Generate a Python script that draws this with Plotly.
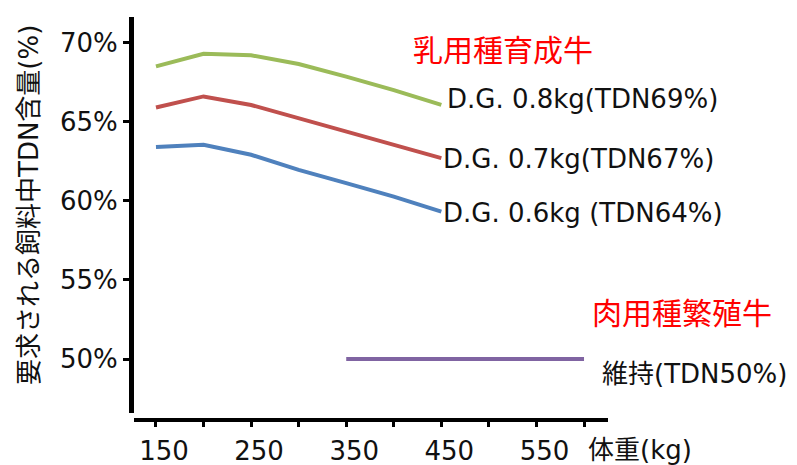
import plotly.graph_objects as go

# Body weight (kg) at which the requirement is given
weight = [150, 200, 250, 300, 350, 400, 450]

# Required TDN content of feed (%) for dairy heifers, by daily gain
tdn_dg08 = [68.5, 69.3, 69.2, 68.65, 67.85, 67.0, 66.06]
tdn_dg07 = [65.9, 66.6, 66.06, 65.22, 64.38, 63.54, 62.7]
tdn_dg06 = [63.4, 63.54, 62.91, 61.96, 61.12, 60.27, 59.32]

# Beef breeding cow, maintenance
maint_weight = [350, 600]
maint_tdn = [50, 50]

series_names = ["D.G. 0.8kg(TDN69%)", "D.G. 0.7kg(TDN67%)", "D.G. 0.6kg (TDN64%)"]
series_colors = ["#9BBB59", "#C0504D", "#4F81BD"]
maint_name = "維持(TDN50%)"
maint_color = "#8064A2"

x_tick_vals = [150, 200, 250, 300, 350, 400, 450, 500, 550, 600]
x_tick_text = ["150", "", "250", "", "350", "", "450", "", "550", ""]
y_tick_vals = [50, 55, 60, 65, 70]
y_tick_text = ["50%", "55%", "60%", "65%", "70%"]

FONT = "DejaVu Sans, Noto Sans CJK JP, sans-serif"
CJK = "Noto Sans CJK JP, sans-serif"
INK = "#111111"

fig = go.Figure()
for ys, name, color in zip([tdn_dg08, tdn_dg07, tdn_dg06], series_names, series_colors):
    fig.add_trace(go.Scatter(x=weight, y=ys, mode="lines", name=name,
                             line=dict(color=color, width=4), cliponaxis=False))
fig.add_trace(go.Scatter(x=maint_weight, y=maint_tdn, mode="lines", name=maint_name,
                         line=dict(color=maint_color, width=4), cliponaxis=False))

# Page geometry (pixels)
L, R, T, B = 134, 189, 17, 45
W, H = 797, 465
pw, ph = W - L - R, H - T - B


def px_to_paper(px, py):
    return (px - L) / pw, (H - B - py) / ph


def add_text(px, py, text, size, color=INK, xanchor="left", family=FONT, angle=0):
    x, y = px_to_paper(px, py)
    fig.add_annotation(x=x, y=y, xref="paper", yref="paper", text=text, showarrow=False,
                       xanchor=xanchor, yanchor="middle", textangle=angle,
                       font=dict(family=family, size=size, color=color))


# Right-hand labels for each line
for (lx, ly), name in zip([(445, 99), (441, 159), (441, 213)], series_names):
    add_text(lx, ly, name, 26)
add_text(600, 374, maint_name, 26)

# Group headings
add_text(503, 48, "乳用種育成牛", 30, color="#FF0000", xanchor="center", family=CJK)
add_text(682, 311, "肉用種繁殖牛", 30, color="#FF0000", xanchor="center", family=CJK)

# Axis titles
add_text(586, 450, "体重(kg)", 26)
add_text(29, 205, "要求される飼料中TDN含量(%)", 26, xanchor="center", angle=-90)

fig.update_layout(
    width=W, height=H,
    margin=dict(l=L, r=R, t=T, b=B, pad=0),
    plot_bgcolor="white", paper_bgcolor="white",
    showlegend=False,
    font=dict(family=FONT, size=26, color=INK),
    xaxis=dict(range=[126.9, 625.2], tickvals=x_tick_vals, ticktext=x_tick_text,
               showgrid=False, zeroline=False, showline=True, linecolor="black",
               linewidth=4, ticks="outside", ticklen=5, tickwidth=3, tickcolor="black",
               anchor="free", position=0, ticklabelshift=8, ticklabelstandoff=2,
               automargin=False,
               tickfont=dict(family=FONT, size=26, color=INK)),
    yaxis=dict(range=[46.59, 71.62], domain=[0.0174, 1], tickvals=y_tick_vals,
               ticktext=y_tick_text, showgrid=False, zeroline=False, showline=True,
               linecolor="black", linewidth=5, ticks="outside", ticklen=6, tickwidth=3,
               tickcolor="black", ticklabelstandoff=0, automargin=False,
               tickfont=dict(family=FONT, size=26, color=INK)),
)

fig.write_html("out.html")
